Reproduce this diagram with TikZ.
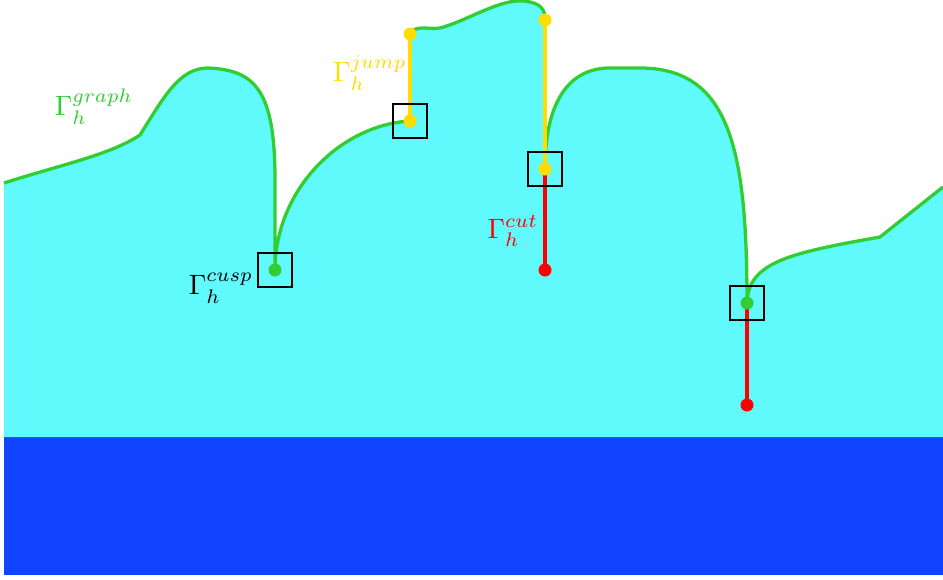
\documentclass[tikz,border=0pt]{standalone}
\usepackage{graphicx}
\newcommand{\biglab}[1]{\scalebox{2.8}{$#1$}}
\begin{document}
\begin{tikzpicture}[x=1pt,y=-1pt]
\definecolor{gcol}{RGB}{50,205,50}
\definecolor{ycol}{RGB}{255,221,0}
\definecolor{rcol}{RGB}{255,0,0}
\definecolor{ccol}{RGB}{96,250,252}
\definecolor{bcol}{RGB}{17,68,255}
\tikzset{
  graphline/.style={draw=gcol,line width=3.3pt},
  jumpline/.style={draw=ycol,line width=3.3pt},
  cutline/.style={draw=rcol,line width=3.3pt},
  dot/.style={circle,inner sep=0pt,minimum size=13pt,fill=#1},
  markbox/.style={draw=black,line width=1.4pt,minimum size=34pt,inner sep=0pt},
  lab/.style={inner sep=0pt}
}
\useasboundingbox (0,0) rectangle (943,579);
% key points
\coordinate (cuspA) at (275,270);
\coordinate (jumpB) at (410,121);
\coordinate (jumpT) at (410,34);
\coordinate (jump2T) at (545,20);
\coordinate (jump2B) at (545,169);
\coordinate (cusp2) at (747,303);
\coordinate (cutE1) at (545,270);
\coordinate (cutE2) at (747,405);
% water / domain fill
\fill[bcol] (4,437) rectangle (943,575);
\fill[ccol] (4,437) -- (4,183)
  .. controls (60,165) and (110,155) .. (140,135)
  .. controls (165,95) and (180,68) .. (208,68)
  .. controls (255,70) and (275,90) .. (275,180) -- (cuspA)
  .. controls (275,190) and (340,125) .. (jumpB) -- (jumpT)
  .. controls (415,24) and (430,30) .. (440,28)
  .. controls (470,20) and (505,-5) .. (530,2)
  .. controls (545,5) and (545,15) .. (jump2T) -- (jump2B)
  .. controls (545,100) and (570,68) .. (610,68) -- (640,68)
  .. controls (730,68) and (747,150) .. (cusp2)
  .. controls (748,262) and (790,253) .. (880,237) -- (943,187) -- (943,437) -- cycle;
% graph curve
\draw[graphline] (4,183)
  .. controls (60,165) and (110,155) .. (140,135)
  .. controls (165,95) and (180,68) .. (208,68)
  .. controls (255,70) and (275,90) .. (275,180) -- (cuspA)
  .. controls (275,190) and (340,125) .. (jumpB);
\draw[graphline] (jumpT)
  .. controls (415,24) and (430,30) .. (440,28)
  .. controls (470,20) and (505,-5) .. (530,2)
  .. controls (545,5) and (545,15) .. (jump2T);
\draw[graphline] (jump2B)
  .. controls (545,100) and (570,68) .. (610,68) -- (640,68)
  .. controls (730,68) and (747,150) .. (cusp2)
  .. controls (748,262) and (790,253) .. (880,237) -- (943,187);
% jumps and cuts
\draw[jumpline] (jumpB) -- (jumpT);
\draw[jumpline] (jump2T) -- (jump2B);
\draw[cutline] (jump2B) -- (cutE1);
\draw[cutline] (cusp2) -- (cutE2);
% boxes
\node[markbox] (bx1) at (cuspA) {};
\node[markbox] (bx2) at (jumpB) {};
\node[markbox] (bx3) at (jump2B) {};
\node[markbox] (bx4) at (cusp2) {};
% dots
\node[dot=gcol] (d1) at (cuspA) {};
\node[dot=gcol] (d2) at (cusp2) {};
\node[dot=ycol] (d3) at (jumpB) {};
\node[dot=ycol] (d4) at (jumpT) {};
\node[dot=ycol] (d5) at (jump2T) {};
\node[dot=ycol] (d6) at (jump2B) {};
\node[dot=rcol] (d7) at (cutE1) {};
\node[dot=rcol] (d8) at (cutE2) {};
% labels
\node[lab,text=gcol] (lgraph) at (94,106.5) {\biglab{\Gamma_h^{graph}}};
\node[lab,text=ycol] (ljump) at (370,73) {\biglab{\Gamma_h^{jump}}};
\node[lab,text=black] (lcusp) at (221,288) {\biglab{\Gamma_h^{cusp}}};
\node[lab,text=rcol] (lcut) at (513,231) {\biglab{\Gamma_h^{cut}}};
\end{tikzpicture}
\end{document}
